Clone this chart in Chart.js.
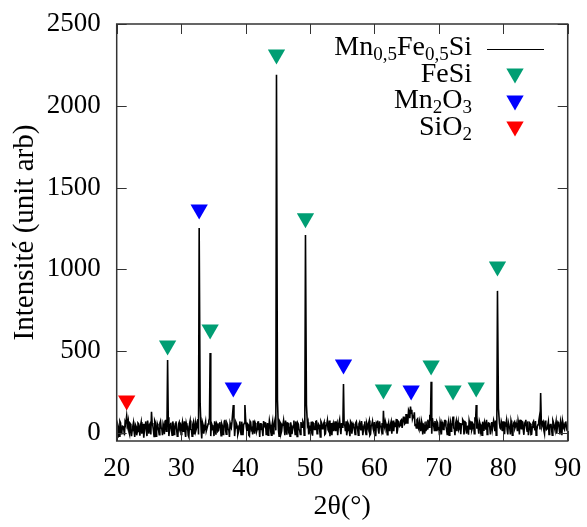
<!DOCTYPE html>
<html><head><meta charset="utf-8">
<script src="https://cdn.jsdelivr.net/npm/chart.js@4/dist/chart.umd.min.js"></script>
<style>html,body{margin:0;padding:0;background:#fff}#c{display:block}</style>
</head><body>
<canvas id="c" width="587" height="527"></canvas>
<script>
// ---- data ----
const startAngle = 20, angleStep = 0.2;
const baseline = [
 10, 45, -20, 60, 5,
 38, -15, 52, 20, 70,
 -10, 48, 15, 62, -25,
 40, 8, 55, -18, 66,
 22, -30, 50, 12, 75,
 -5, 58, 18, 45, -22,
 64, 10, 40, -12, 72,
 25, 55, -8, 80, 30,
 95, 20, 62, -15, 48,
 12, 70, -20, 55, 28,
 -10, 66, 35, 8, 58,
 40, -25, 75, 18, 50,
 -5, 62, 30, 85, 45,
 60, -35, 50, 20, 68,
 10, 55, 90, -20, 48,
 30, 70, -12, 52, 15,
 65, -18, 42, 25, 80,
 -8, 50, 18, 60, 35,
 70, 95, 30, 55, -10,
 45, 20, 68, -15, 58,
 90, 12, 50, -20, 62,
 28, 75, -5, 48, 20,
 66, -25, 55, 15, 72,
 38, -10, 60, 25, 50,
 -15, 70, 30, 85, 40,
 55, -20, 62, 10, 48,
 30, 75, -12, 58, 20,
 64, -8, 45, 28, 70,
 -22, 52, 15, 66, 35,
 60, 90, 25, 50, -10,
 45, 68, -18, 55, 20,
 72, 12, 48, -25, 60,
 30, 66, -5, 52, 18,
 75, 25, -15, 58, 40,
 10, 62, 35, 80, -8,
 55, 100, 45, 70, 15,
 50, -20, 62, 28, 45,
 -10, 68, 20, 55, 35,
 72, -15, 48, 12, 60,
 30, 75, -8, 52, 25,
 66, -20, 45, 18, 70,
 38, 60, 95, 30, 55,
 -12, 62, 25, 70, 40,
 10, 58, 85, 20, 66,
 45, 80, 30, 95, 60,
 110, 70, 130, 85, 140,
 100, 125, 55, 80, 30,
 65, 10, 58, 40, -5,
 70, 25, 55, 110, 60,
 90, 45, 72, 15, 62,
 35, 68, -10, 55, 28,
 75, 20, 50, -15, 62,
 40, 100, 25, 58, 10,
 66, 30, -8, 52, 72,
 18, 60, 35, -12, 55,
 70, 28, 48, 95, 40,
 62, -5, 55, 25, 68,
 12, 50, 80, 30, 58,
 -10, 66, 20, 52, 75,
 45, 90, 60, 25, 55,
 70, -8, 48, 20, 62,
 35, 75, -15, 58, 28,
 60, 10, 52, 80, 25,
 66, -12, 45, 30, 70,
 20, 55, -8, 62, 38,
 72, 15, 50, 95, 60,
 40, 65, -5, 48, 25,
 68, 30, 55, -15, 62,
 22, 70, 40, 58, -10,
 50, 75, 28, 60, 35,
 45
];
// intermediate readings (at startAngle + 0.1 + i*angleStep)
const baselineMid = [
 -25, 30, 70, -5, 40,
 20, 65, -30, 45, 5,
 55, -20, 40, 10, 50,
 -15, 60, 25, 45, -5,
 55, 15, 70, -20, 35,
 50, -10, 60, 15, 75,
 -20, 55, 15, 60, 30,
 -15, 40, 70, 10, 60,
 -20, 50, 15, 70, -10,
 55, 20, -15, 65, 40,
 45, 10, 70, -25, 40,
 -15, 55, 20, -20, 65,
 35, 15, 70, -10, 55,
 20, 65, -5, 45, 10,
 40, 75, -15, 60, 25,
 -20, 45, 60, 10, 55,
 30, 55, -10, 70, 15,
 60, 20, -25, 45, 70,
 15, -20, 65, 40, 5,
 70, -10, 40, 50, -20,
 40, 55, -15, 70, 20,
 -10, 40, 60, 5, 65,
 30, 55, 20, -20, 45,
 65, 20, -15, 75, 10,
 45, -5, 65, 15, 55,
 20, 70, -5, 50, 75,
 -15, 45, 60, 10, -20,
 40, 20, 75, -10, 50,
 60, 20, -10, 45, 70,
 -15, 55, 40, 65, 15,
 -10, 40, 60, 20, 70,
 -5, 55, 20, 70, 25,
 55, -10, 45, 75, 10,
 -20, 60, 45, 10, 70,
 50, -15, 60, 25, 55,
 30, 50, 10, -15, 60,
 15, 70, -5, 55, 20,
 60, 40, -15, 65, 15,
 40, 20, 70, -10, 45,
 60, -15, 45, 70, 10,
 20, 55, 75, -5, 40,
 15, -10, 45, 70, 20,
 45, 15, 55, -5, 75,
 60, 35, -5, 70, 40,
 75, 30, 95, 55, 110,
 60, 140, 90, 120, 85,
 95, 45, 30, 85, 20,
 40, 75, -10, 50, 25,
 20, 80, 35, 75, -5,
 60, 15, 40, 70, 20,
 -15, 50, 65, 20, 75,
 40, -10, 70, 35, 10,
 65, 30, -15, 75, 40,
 20, 60, 45, 80, -10,
 65, -5, 45, 75, 20,
 15, 55, -5, 70, 25,
 30, 70, 10, -15, 45,
 65, 20, -10, 60, 35,
 40, 20, 75, 10, -15,
 15, 65, 30, 70, 10,
 30, 55, 75, -10, 45,
 -10, 55, 30, 65, 40,
 40, 75, -10, 55, 70,
 20, 55, 80, 10, -15,
 60, -10, 35, 70, 15,
 -15, 40, 70, 20, 75,
 55, 15, 75, 20, 45,
 -10, 50, 20, 75, 40,
 45, -5, 65, 20, 70,
 -15, 55, 20, 70, 15
];
const peakAngles  = [21.55, 25.4, 27.9, 32.8, 32.95, 34.5, 38.1, 39.9, 44.8, 44.95, 49.3, 49.45, 55.2, 61.4, 65.6, 68.8, 75.8, 79.1, 79.25, 85.8];
const peakHeights = [104,   128,  445,  1253, 180,   488,  170,  170,  2190, 200,   1210, 170,   298,  135,  160,  312,  170,  868,  150,   243];

const fesiAngles = [27.9, 34.5, 44.8, 49.3, 61.4, 68.8, 72.2, 75.8, 79.1];
const fesiMarks  = [534,  632,  2313, 1312, 265,  412,  259,  277,  1017];
const mn2o3Angles = [32.8, 38.1, 55.2, 65.7];
const mn2o3Marks  = [1366, 277,  418,  259];
const sio2Angles = [21.55];
const sio2Marks  = [197];

const xTicks = [20, 30, 40, 50, 60, 70, 80, 90];
const yTicks = [0, 500, 1000, 1500, 2000, 2500];

// ---- build ----
const FONT = "'Liberation Serif', 'DejaVu Serif', serif";
const lineData = baseline.map((v, i) => ({ x: +(startAngle + i * angleStep).toFixed(2), y: v }))
  .concat(baselineMid.map((v, i) => ({ x: +(startAngle + 0.1 + i * angleStep).toFixed(2), y: v })))
  .filter(p => !peakAngles.some(a => Math.abs(a - p.x) < 0.06))
  .concat(peakAngles.map((a, i) => ({ x: a, y: peakHeights[i] })))
  .sort((a, b) => a.x - b.x);
const pts = (xs, ys) => xs.map((a, i) => ({ x: a, y: ys[i] }));

const GREEN = '#009e73', BLUE = '#0000ff', RED = '#ff0000';

const framePlugin = {
  id: 'frame',
  afterDatasetsDraw(chart) {
    const { ctx, chartArea: a, scales } = chart;
    ctx.save();
    ctx.strokeStyle = '#333';
    ctx.lineWidth = 1;
    ctx.beginPath();
    xTicks.forEach(v => {
      const px = Math.round(scales.x.getPixelForValue(v)) + 0.5;
      ctx.moveTo(px, a.bottom); ctx.lineTo(px, a.bottom - 10);
      ctx.moveTo(px, a.top); ctx.lineTo(px, a.top + 10);
    });
    yTicks.forEach(v => {
      const py = Math.round(scales.y.getPixelForValue(v)) + 0.5;
      ctx.moveTo(a.left, py); ctx.lineTo(a.left + 10, py);
      ctx.moveTo(a.right, py); ctx.lineTo(a.right - 10, py);
    });
    ctx.stroke();
    ctx.lineWidth = 1.5;
    ctx.strokeRect(a.left, a.top, a.right - a.left, a.bottom - a.top);
    ctx.restore();
  },
  afterDraw(chart) {
    const ctx = chart.ctx;
    const size = 28, sub = 19;
    const textRight = 472;
    const drawRich = (segs, baselineY) => {
      let w = 0;
      segs.forEach(s => { ctx.font = (s[1] ? sub : size) + 'px ' + FONT; w += ctx.measureText(s[0]).width; });
      let x = textRight - w;
      segs.forEach(s => {
        ctx.font = (s[1] ? sub : size) + 'px ' + FONT;
        ctx.fillText(s[0], x, baselineY + (s[1] ? 5 : 0));
        x += ctx.measureText(s[0]).width;
      });
    };
    const tri = (cx, cy, color) => {
      const r = 10;
      ctx.fillStyle = color;
      ctx.beginPath();
      ctx.moveTo(cx, cy + r * 0.75);
      ctx.lineTo(cx - r * 0.866, cy - r * 0.75);
      ctx.lineTo(cx + r * 0.866, cy - r * 0.75);
      ctx.closePath();
      ctx.fill();
    };
    ctx.save();
    ctx.fillStyle = '#000';
    ctx.textBaseline = 'alphabetic';
    ctx.textAlign = 'left';
    drawRich([['Mn', 0], ['0,5', 1], ['Fe', 0], ['0,5', 1], ['Si', 0]], 55);
    drawRich([['FeSi', 0]], 82);
    drawRich([['Mn', 0], ['2', 1], ['O', 0], ['3', 1]], 108);
    drawRich([['SiO', 0], ['2', 1]], 135);
    ctx.strokeStyle = '#000';
    ctx.lineWidth = 1;
    ctx.beginPath(); ctx.moveTo(487, 49.5); ctx.lineTo(544, 49.5); ctx.stroke();
    tri(515, 76, GREEN);
    tri(515, 103, BLUE);
    tri(515, 129, RED);
    ctx.restore();
  }
};

const markerDs = (label, data, color) => ({
  type: 'scatter', label, data,
  pointStyle: 'triangle', rotation: 180, pointRadius: 10, pointHoverRadius: 10,
  backgroundColor: color, borderColor: color, borderWidth: 0, showLine: false
});

new Chart(document.getElementById('c'), {
  type: 'line',
  data: {
    datasets: [
      { label: 'Mn0,5Fe0,5Si', data: lineData, borderColor: '#000', borderWidth: 1.6, pointRadius: 0, tension: 0, fill: false },
      markerDs('FeSi', pts(fesiAngles, fesiMarks), GREEN),
      markerDs('Mn2O3', pts(mn2o3Angles, mn2o3Marks), BLUE),
      markerDs('SiO2', pts(sio2Angles, sio2Marks), RED)
    ]
  },
  options: {
    responsive: false, animation: false, devicePixelRatio: 1,
    layout: { autoPadding: false, padding: { top: 24, right: 19.3, left: 0, bottom: 0 } },
    plugins: { legend: { display: false }, tooltip: { enabled: false } },
    scales: {
      x: {
        type: 'linear', min: 20, max: 90,
        afterBuildTicks: s => { s.ticks = xTicks.map(v => ({ value: v })); },
        afterFit: s => { s.height = 86; s.paddingLeft = 0; s.paddingRight = 0; },
        grid: { display: false, drawTicks: false },
        border: { display: false },
        ticks: { padding: 12, color: '#000', font: { family: FONT, size: 27 }, callback: v => String(v), maxRotation: 0 },
        title: { display: true, text: '2θ(°)', color: '#000', font: { family: FONT, size: 28 }, padding: { top: 0 } }
      },
      y: {
        type: 'linear', min: -50, max: 2500,
        afterBuildTicks: s => { s.ticks = yTicks.map(v => ({ value: v })); },
        afterFit: s => { s.width = 116.7; s.paddingTop = 0; s.paddingBottom = 0; },
        grid: { display: false, drawTicks: false },
        border: { display: false },
        ticks: { padding: 16, color: '#000', font: { family: FONT, size: 27 }, callback: v => String(v) },
        title: { display: true, text: 'Intensité (unit arb)', color: '#000', font: { family: FONT, size: 29 }, padding: { top: 8 } }
      }
    }
  },
  plugins: [framePlugin]
});
</script>
</body></html>
